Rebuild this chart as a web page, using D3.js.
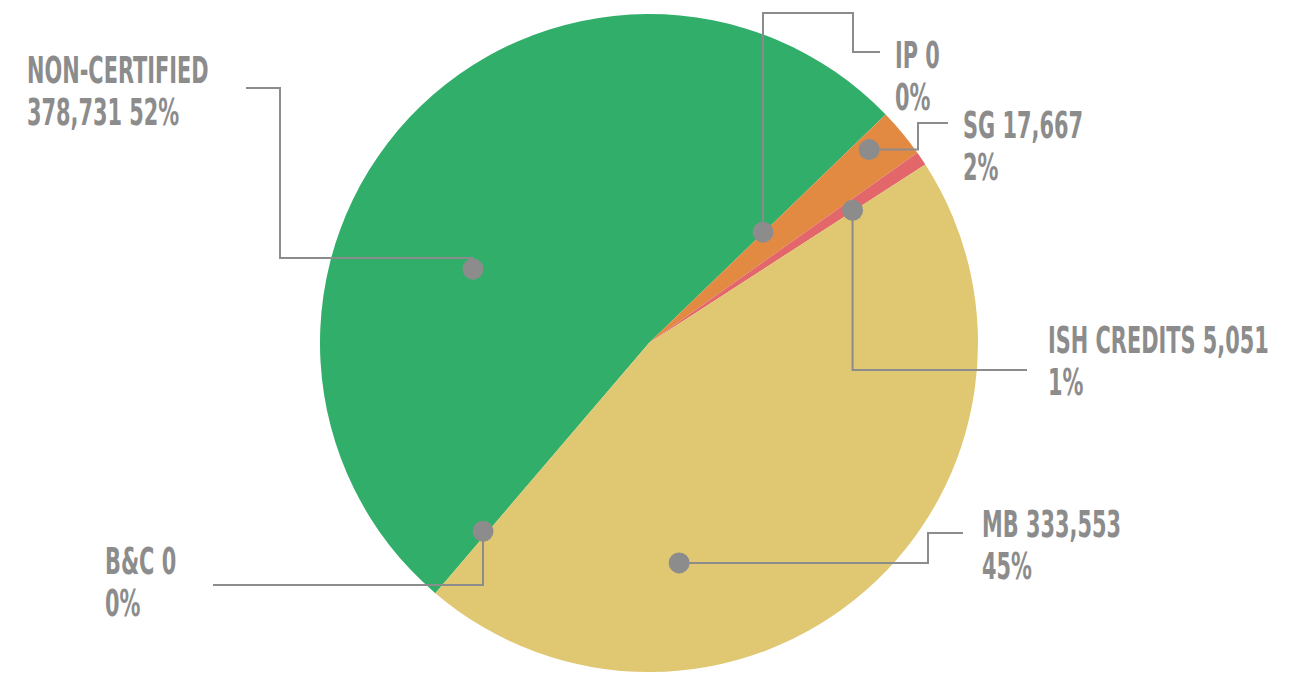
<!DOCTYPE html>
<html>
<head>
<meta charset="utf-8">
<script src="https://cdn.jsdelivr.net/npm/d3@7/dist/d3.min.js"></script>
<style>
  html, body { margin: 0; padding: 0; background: #ffffff; }
  svg { display: block; }
  .lbl { font-family: "Liberation Sans Narrow", "DejaVu Sans Condensed", "Liberation Sans", sans-serif; font-weight: 700; fill: #8c8c8c; }
</style>
</head>
<body>
<svg id="chart" width="1306" height="673"></svg>
<script>
// Credit categories and totals, in drawing order (clockwise)
const categories = ["NON-CERTIFIED", "IP", "SG", "ISH CREDITS", "MB", "B&C"];
const values = [378731, 0, 17667, 5051, 333553, 0];
const colors = ["#31ae6a", "#e38a42", "#e38a42", "#e3666b", "#e0c772", "#e0c772"];

// Label placement: anchor dot in polar form (degrees clockwise from 12 o'clock, radius px),
// leader-line elbows (h = move to absolute x, v = move to absolute y) and text origin.
const labelLayout = [
  { angle: 292.8, r: 191, steps: [["v", 258], ["h", 280], ["v", 88], ["h", 246]], tx: 27, ty: 83, wrap: true },
  { angle: 45.8, r: 159, steps: [["v", 13], ["h", 853], ["v", 52], ["h", 880]], tx: 895, ty: 68 },
  { angle: 48.7, r: 293, steps: [["h", 918], ["v", 123], ["h", 948]], tx: 963, ty: 138 },
  { angle: 56.9, r: 243, steps: [["v", 370], ["h", 1027]], tx: 1048, ty: 353 },
  { angle: 172.2, r: 222, steps: [["h", 928], ["v", 533], ["h", 963]], tx: 982, ty: 537 },
  { angle: 221.4, r: 251, steps: [["v", 585], ["h", 213]], tx: 105, ty: 574 }
];

const cx = 649, cy = 343, radius = 329;
const startDeg = 220.5;
const fontSize = 37, lineGap = 42, condense = 0.627;
const grey = "#8c8c8c";

const svg = d3.select("#chart");
const total = d3.sum(values);
const fmtNum = d3.format(",");
const fmtPct = d3.format(".0%");
const rad = d => d * Math.PI / 180;

const data = categories.map((c, i) => ({ name: c, value: values[i], color: colors[i], layout: labelLayout[i] }));

const pie = d3.pie()
  .sort(null)
  .value(d => d.value)
  .startAngle(rad(startDeg))
  .endAngle(rad(startDeg) + 2 * Math.PI);

const arc = d3.arc().innerRadius(0).outerRadius(radius);

const g = svg.append("g").attr("transform", `translate(${cx},${cy})`);

g.selectAll("path.slice")
  .data(pie(data).filter(d => d.data.value > 0))
  .join("path")
  .attr("class", "slice")
  .attr("d", arc)
  .attr("fill", d => d.data.color);

// Leader lines and dots
const lines = svg.append("g");
data.forEach(d => {
  const L = d.layout;
  const [px, py] = d3.pointRadial(rad(L.angle), L.r);
  let x = cx + px, y = cy + py;
  const pts = [[x, y]];
  L.steps.forEach(([k, v]) => {
    if (k === "h") x = v; else y = v;
    pts.push([x, y]);
  });
  lines.append("path")
    .attr("d", d3.line()(pts))
    .attr("fill", "none")
    .attr("stroke", grey)
    .attr("stroke-width", 2);
  lines.append("circle")
    .attr("cx", pts[0][0])
    .attr("cy", pts[0][1])
    .attr("r", 10.5)
    .attr("fill", grey);
});

// Text labels
const labels = svg.append("g");
data.forEach(d => {
  const L = d.layout;
  const num = fmtNum(d.value), pct = fmtPct(d.value / total);
  const rows = L.wrap ? [d.name, `${num} ${pct}`] : [`${d.name} ${num}`, pct];
  const t = labels.append("g")
    .attr("transform", `translate(${L.tx},${L.ty}) scale(${condense},1)`)
    .append("text")
    .attr("class", "lbl")
    .attr("font-size", fontSize);
  rows.forEach((row, i) => {
    t.append("tspan").attr("x", 0).attr("y", i * lineGap).text(row);
  });
});
</script>
</body>
</html>
